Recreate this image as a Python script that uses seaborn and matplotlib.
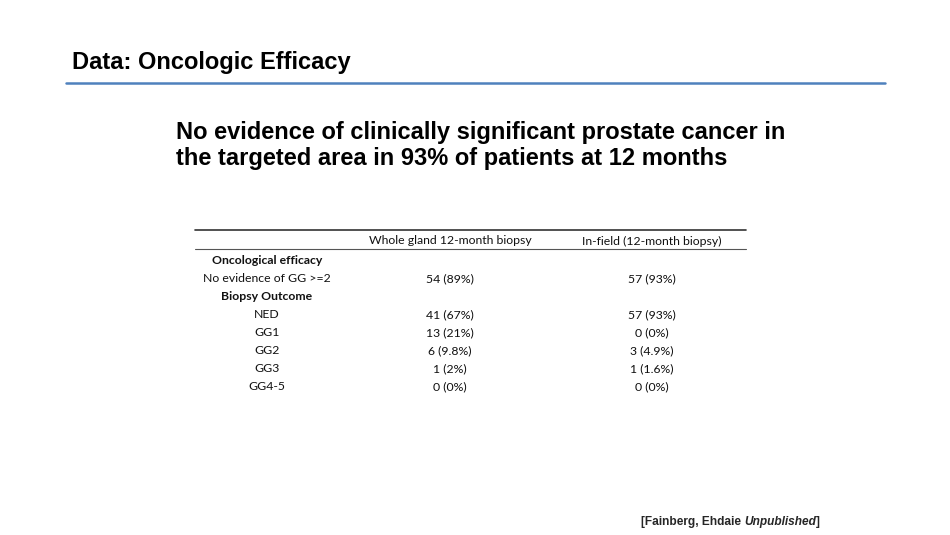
import matplotlib
matplotlib.use("Agg")
import matplotlib.pyplot as plt
import seaborn as sns

# slide texts
title = "Data: Oncologic Efficacy"
subtitle = ["No evidence of clinically significant prostate cancer in",
            "the targeted area in 93% of patients at 12 months"]

# table contents
col_headers = ["Whole gland 12-month biopsy", "In-field (12-month biopsy)"]
row_labels = ["Oncological efficacy", "No evidence of GG >=2", "Biopsy Outcome",
              "NED", "GG1", "GG2", "GG3", "GG4-5"]
section_rows = ["Oncological efficacy", "Biopsy Outcome"]
whole_gland = ["", "54 (89%)", "", "41 (67%)", "13 (21%)", "6 (9.8%)", "1 (2%)", "0 (0%)"]
in_field = ["", "57 (93%)", "", "57 (93%)", "0 (0%)", "3 (4.9%)", "1 (1.6%)", "0 (0%)"]

sns.set_theme(style="white")
plt.rcParams["font.family"] = ["Liberation Sans", "DejaVu Sans"]

fig = plt.figure(figsize=(9.5, 5.35), dpi=100)
ax = fig.add_axes([0, 0, 1, 1])
ax.set_xlim(0, 950)
ax.set_ylim(535, 0)
ax.axis("off")

# header
ax.text(72, 63, title, fontsize=17, fontweight="bold", va="center", ha="left", color="black")
ax.plot([66, 885], [83, 83], color="#4f81bd", lw=1.8)

ax.text(176, 132, subtitle[0], fontsize=17, fontweight="bold", va="center", ha="left", color="black")
ax.text(176, 158, subtitle[1], fontsize=17, fontweight="bold", va="center", ha="left", color="black")

# table
tfont = ["Lato", "DejaVu Sans"]
label_x, col_x = 267, [450, 652]
ax.plot([195, 746], [230, 230], color="#333333", lw=1.2)
ax.plot([195, 746], [249, 249], color="#555555", lw=0.8)
for x, h in zip(col_x, col_headers):
    ax.text(x, 241, h, fontsize=8.8, family=tfont, ha="center", va="center", color="#111111")

row_y0, row_step = 261, 18
for i, lab in enumerate(row_labels):
    y = row_y0 + i * row_step
    weight = "bold" if lab in section_rows else "normal"
    ax.text(label_x, y, lab, fontsize=8.8, family=tfont, fontweight=weight,
            ha="center", va="center", color="#111111")
    ax.text(col_x[0], y, whole_gland[i], fontsize=8.8, family=tfont, ha="center", va="center", color="#111111")
    ax.text(col_x[1], y, in_field[i], fontsize=8.8, family=tfont, ha="center", va="center", color="#111111")

# source note, pieces chained one after another
t1 = ax.text(641, 528, "[Fainberg, Ehdaie ", fontsize=8.6, fontweight="bold", ha="left", va="bottom")
t2 = ax.annotate("Unpublished", xy=(1, 0), xycoords=t1, fontsize=8.6, fontweight="bold",
                 style="italic", ha="left", va="bottom")
ax.annotate("]", xy=(1, 0), xycoords=t2, fontsize=8.6, fontweight="bold", ha="left", va="bottom")

fig.savefig("out.png", dpi=100)
